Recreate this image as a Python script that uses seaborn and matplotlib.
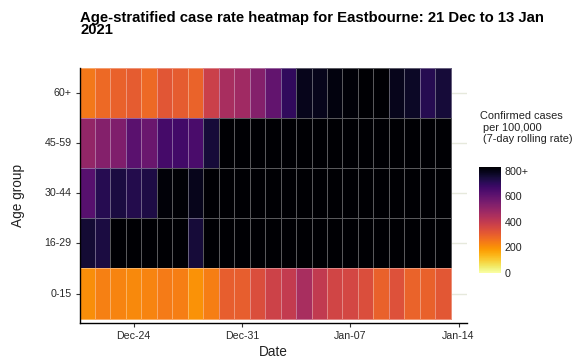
import numpy as np
import pandas as pd
import matplotlib
matplotlib.use("Agg")
import matplotlib.pyplot as plt
import seaborn as sns

# ---- data (7-day rolling case rate per 100,000; 830 = capped "800+") ----
dates = ["2020-12-21", "2020-12-22", "2020-12-23", "2020-12-24", "2020-12-25", "2020-12-26",
         "2020-12-27", "2020-12-28", "2020-12-29", "2020-12-30", "2020-12-31", "2021-01-01",
         "2021-01-02", "2021-01-03", "2021-01-04", "2021-01-05", "2021-01-06", "2021-01-07",
         "2021-01-08", "2021-01-09", "2021-01-10", "2021-01-11", "2021-01-12", "2021-01-13"]
age_groups = ["60+", "45-59", "30-44", "16-29", "0-15"]

rate_60_plus = [249, 278, 295, 307, 278, 320, 307, 290, 382, 456, 473, 531,
                598, 697, 789, 789, 809, 818, 830, 830, 789, 772, 714, 747]
rate_45_59 = [498, 531, 540, 614, 581, 656, 664, 647, 747, 830, 830, 830,
              830, 830, 830, 830, 830, 830, 830, 830, 830, 830, 830, 830]
rate_30_44 = [622, 714, 739, 722, 730, 818, 822, 790, 830, 830, 830, 830,
              830, 830, 830, 830, 830, 830, 830, 830, 830, 830, 830, 830]
rate_16_29 = [755, 739, 830, 830, 830, 830, 830, 747, 830, 830, 830, 830,
              830, 830, 830, 830, 830, 830, 830, 830, 830, 830, 830, 830]
rate_0_15 = [207, 232, 224, 216, 224, 241, 236, 199, 236, 299, 299, 340,
             373, 398, 456, 402, 365, 357, 340, 295, 332, 290, 295, 315]

date_ticks = [3, 10, 17, 24]
date_tick_labels = ["Dec-24", "Dec-31", "Jan-07", "Jan-14"]
cbar_ticks = [0, 200, 400, 600, 800]
cbar_tick_labels = ["0", "200", "400", "600", "800+"]

df = pd.DataFrame([rate_60_plus, rate_45_59, rate_30_44, rate_16_29, rate_0_15],
                  index=age_groups, columns=dates)

# ---- figure ----
sns.set_style("white")
plt.rcParams["font.family"] = ["Liberation Sans", "DejaVu Sans"]

W, H = 585, 362
fig = plt.figure(figsize=(W / 100, H / 100), dpi=100)

def box(l, t, r, b):
    return [l / W, 1 - b / H, (r - l) / W, (b - t) / H]

ax = fig.add_axes(box(79.5, 67.5, 466.7, 322.7))
cax = fig.add_axes(box(479, 166.7, 500.7, 273))

sns.heatmap(df, cmap="inferno_r", vmin=0, vmax=830, ax=ax, cbar_ax=cax,
            linewidths=0.6, linecolor=(1, 1, 1, 0.35),
            cbar_kws={"ticks": cbar_ticks})

ax.set_xlim(0, 25.03)
ax.set_ylim(5.08, 0)

# gridlines behind (visible only outside tiles)
ax.set_axisbelow(True)
for i in range(len(age_groups)):
    ax.axhline(i + 0.5, color="#E6E9DC", lw=1.0, zorder=0)

ax.set_yticks(np.arange(len(age_groups)) + 0.5)
ax.set_yticklabels(age_groups, rotation=0)
ax.set_xticks(np.array(date_ticks) + 0.5)
ax.set_xticklabels(date_tick_labels, rotation=0)
ax.tick_params(axis="both", which="both", length=3.2, width=0.8, color="#333333",
               labelsize=7.7, labelcolor="#2a2a2a", pad=2.5,
               left=True, bottom=True)
ax.set_xlabel("")
ax.set_ylabel("")

for s in ["left", "bottom"]:
    ax.spines[s].set_visible(True)
    ax.spines[s].set_color("black")
    ax.spines[s].set_linewidth(1.0)
for s in ["top", "right"]:
    ax.spines[s].set_visible(False)

# colorbar styling
cbar = ax.collections[0].colorbar
cbar.outline.set_visible(False)
cbar.set_ticks(cbar_ticks)
cbar.set_ticklabels(cbar_tick_labels)
cax.tick_params(axis="y", left=True, right=True, labelleft=False, labelright=True,
                direction="in", color="white", length=3.5, width=0.8,
                labelsize=7.7, labelcolor="#222222", pad=3)

# legend title
fig.text(480 / W, 1 - 111 / H, "Confirmed cases\n per 100,000\n (7-day rolling rate)",
         ha="left", va="top", fontsize=7.9, color="#222222", linespacing=1.2)

# titles
fig.text(80 / W, 1 - 11 / H,
         "Age-stratified case rate heatmap for Eastbourne: 21 Dec to 13 Jan\n2021",
         ha="left", va="top", fontsize=10.7, fontweight="bold", color="black",
         linespacing=0.85)
fig.text(18 / W, 1 - 195 / H, "Age group", rotation=90, ha="center", va="center",
         fontsize=9.8, color="#222222")
fig.text(273 / W, 1 - 352 / H, "Date", ha="center", va="center",
         fontsize=9.8, color="#222222")

fig.savefig("out.png", dpi=100)
